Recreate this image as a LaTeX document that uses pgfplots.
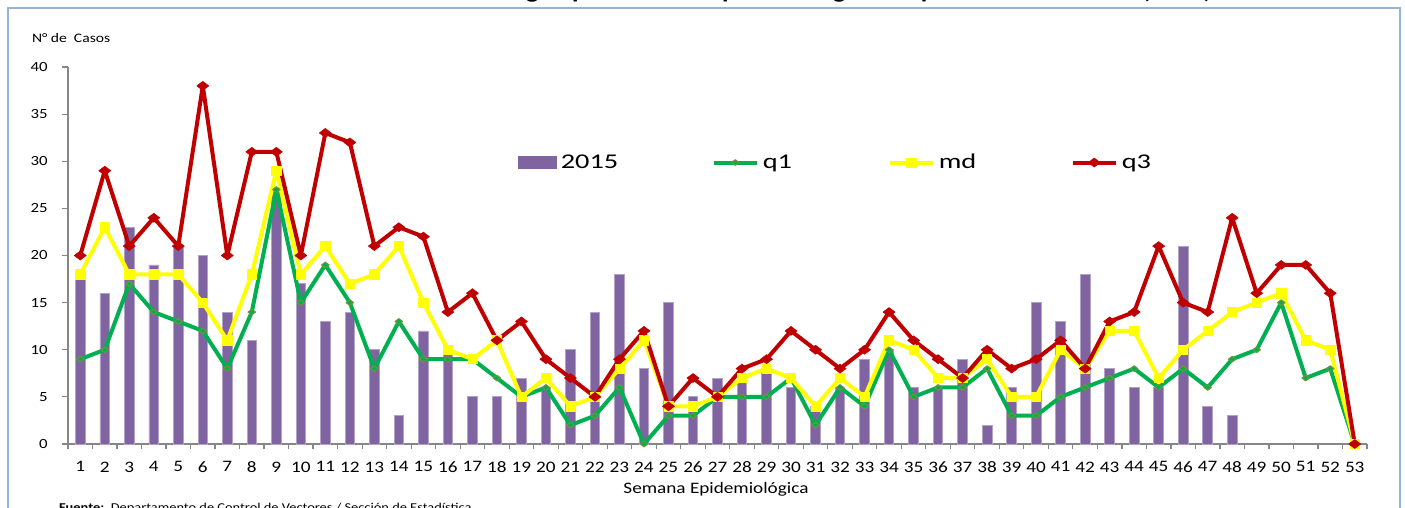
\documentclass[border=0pt]{standalone}
\usepackage{fontspec}
\setmainfont{Carlito}[FakeStretch=1.2]
\newfontfamily\legendfont{Carlito}[FakeStretch=1.35]
\usepackage{pgfplots}
\usepackage{pgfplotstable}
\pgfplotsset{compat=1.18}

\definecolor{barc}{HTML}{8064A2}
\definecolor{barb}{HTML}{B3A2C7}
\definecolor{q1c}{HTML}{00B050}
\definecolor{q1m}{HTML}{76923C}
\definecolor{mdc}{HTML}{FFFF00}
\definecolor{q3c}{HTML}{C00000}
\definecolor{framec}{HTML}{95B3D7}
\definecolor{axc}{HTML}{868686}

\pgfplotsset{
  linelegend/.style={legend image code/.code={\draw[mark repeat=2,mark phase=2,##1] plot coordinates {(0pt,3.2pt) (10.75pt,3.2pt) (21.5pt,3.2pt)};}},
  barlegend/.style={legend image code/.code={\fill[barc] (0pt,0.2pt) rectangle (19pt,6.2pt);}},
}

\pgfplotstableread{
w c
1 18
2 16
3 23
4 19
5 21
6 20
7 14
8 11
9 27
10 17
11 13
12 14
13 10
14 3
15 12
16 10
17 5
18 5
19 7
20 6
21 10
22 14
23 18
24 8
25 15
26 5
27 7
28 7
29 8
30 6
31 4
32 6
33 9
34 10
35 6
36 6
37 9
38 2
39 6
40 15
41 13
42 18
43 8
44 6
45 6
46 21
47 4
48 3
}\tblbar

\pgfplotstableread{
w q1 md q3
1 9 18 20
2 10 23 29
3 17 18 21
4 14 18 24
5 13 18 21
6 12 15 38
7 8 11 20
8 14 18 31
9 27 29 31
10 15 18 20
11 19 21 33
12 15 17 32
13 8 18 21
14 13 21 23
15 9 15 22
16 9 10 14
17 9 9 16
18 7 11 11
19 5 5 13
20 6 7 9
21 2 4 7
22 3 5 5
23 6 8 9
24 0 11 12
25 3 4 4
26 3 4 7
27 5 5 5
28 5 7 8
29 5 8 9
30 7 7 12
31 2 4 10
32 6 7 8
33 4 5 10
34 10 11 14
35 5 10 11
36 6 7 9
37 6 7 7
38 8 9 10
39 3 5 8
40 3 5 9
41 5 10 11
42 6 8 8
43 7 12 13
44 8 12 14
45 6 7 21
46 8 10 15
47 6 12 14
48 9 14 24
49 10 15 16
50 15 16 19
51 7 11 19
52 8 10 16
53 0 0 0
}\tbllines

\begin{document}
\begin{tikzpicture}
\useasboundingbox (0,0) rectangle (702.5pt,-254pt);
\draw[framec, line width=1pt] (4pt,-4pt) rectangle (700pt,-290pt);
\node[anchor=base, font=\bfseries\fontsize{11}{13}\selectfont] at (370pt,0.6pt)
  {Canal Endémico de Dengue por Semana Epidemiológica. Departamento Central (2015)};
\node[anchor=west, font=\fontsize{6.5}{8}\selectfont] at (12.5pt,-19pt) {N° de\ \ Casos};
\node[font=\fontsize{8}{10}\selectfont] at (358pt,-244.5pt) {Semana Epidemiológica};
\node[anchor=base west, font=\fontsize{6}{7}\selectfont] at (26pt,-255.5pt)
  {\textbf{Fuente:}\ \ Departamento de Control de Vectores / Sección de Estadística.};

\begin{axis}[
  at={(34pt,-222pt)}, anchor=south west,
  scale only axis, width=649.5pt, height=188.5pt,
  xmin=0.5, xmax=53.5, ymin=0, ymax=40,
  clip=false,
  axis x line=bottom, axis y line=left,
  axis line style={axc, line width=0.7pt, -},
  xtick={1,...,53},
  minor xtick={0.5,1.5,...,53.5},
  ytick={0,5,...,40},
  tick align=outside,
  major x tick style={draw=none},
  tick style={axc, line width=0.6pt},
  major tick length=3pt, minor tick length=2.5pt,
  /pgf/number format/assume math mode=true,
  xticklabel style={font=\fontsize{8}{9}\selectfont, yshift=-2.3pt},
  yticklabel style={font=\fontsize{7}{8}\selectfont, xshift=-3.7pt},
  legend style={at={(0.3464,0.745)}, anchor=west, draw=none, fill=none,
    inner sep=0pt, outer sep=0pt, legend columns=4,
    font=\legendfont\fontsize{10.5}{12}\selectfont,
    nodes={inner sep=0pt, anchor=base west},
    /tikz/every odd column/.append style={column sep=2pt},
    /tikz/every even column/.append style={column sep=0pt}},
]
\addplot[ybar, bar width=4.8pt, fill=barc, draw=barb, line width=0.4pt, barlegend]
  table[x=w,y=c]{\tblbar};
\addlegendentry{\makebox[75.5pt][l]{2015}}

\addplot[q1c, line width=2pt, line join=round, mark=diamond*, mark size=1.9pt,
  mark options={rotate=90, fill=q1c, draw=q1m, line width=0.5pt}, linelegend]
  table[x=w,y=q1]{\tbllines};
\addlegendentry{\makebox[62.5pt][l]{q1}}

\addplot[mdc, line width=2pt, line join=round, mark=square*, mark size=2.3pt,
  mark options={fill=mdc, draw=mdc, line width=0.3pt}, linelegend]
  table[x=w,y=md]{\tbllines};
\addlegendentry{\makebox[66pt][l]{md}}

\addplot[q3c, line width=2pt, line join=round, mark=diamond*, mark size=3pt,
  mark options={rotate=90, fill=q3c, draw=q3c, line width=0.3pt}, linelegend]
  table[x=w,y=q3]{\tbllines};
\addlegendentry{q3}
\end{axis}
\end{tikzpicture}
\end{document}
